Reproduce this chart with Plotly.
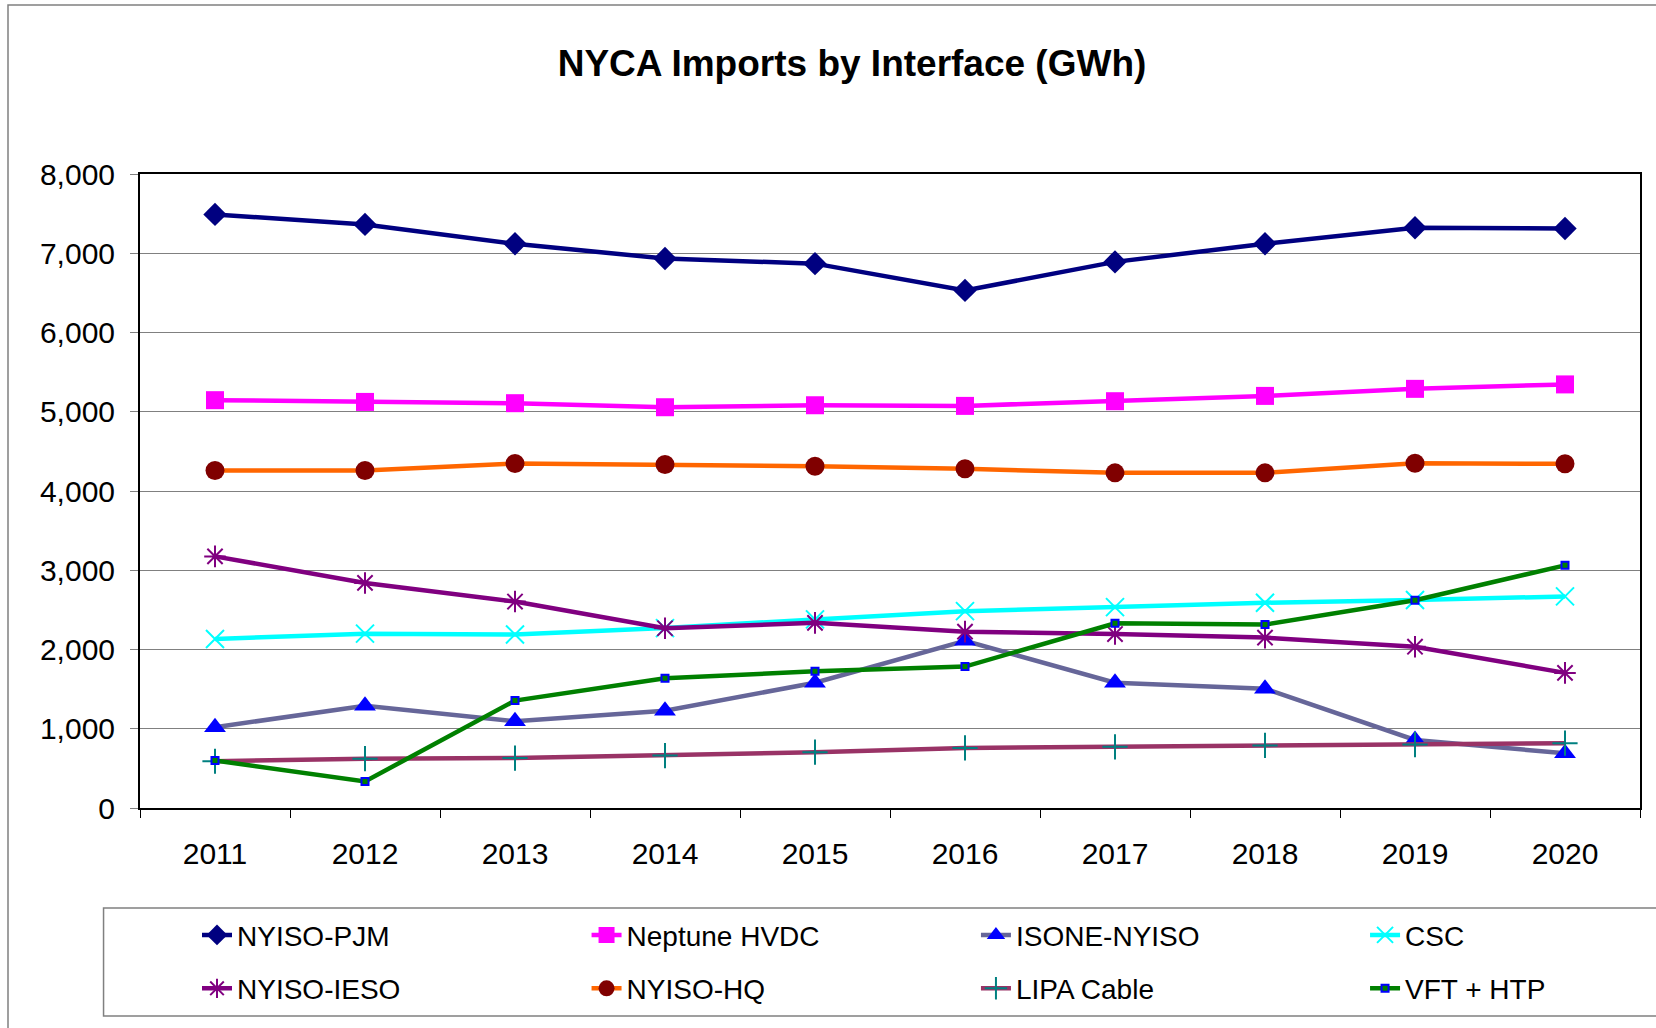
import plotly.graph_objects as go

years = ["2011", "2012", "2013", "2014", "2015", "2016", "2017", "2018", "2019", "2020"]

nyiso_pjm = [7490, 7364, 7119, 6933, 6869, 6531, 6891, 7119, 7322, 7313]
neptune_hvdc = [5146, 5124, 5108, 5057, 5082, 5074, 5133, 5200, 5289, 5345]
isone_nyiso = [1020, 1290, 1095, 1228, 1580, 2110, 1580, 1505, 858, 690]
csc = [2133, 2200, 2190, 2270, 2380, 2484, 2535, 2590, 2624, 2670]
nyiso_ieso = [3175, 2840, 2605, 2268, 2336, 2225, 2195, 2150, 2035, 1705]
nyiso_hq = [4259, 4259, 4347, 4335, 4313, 4280, 4229, 4229, 4351, 4343]
lipa_cable = [590, 622, 630, 662, 705, 758, 772, 790, 800, 818]
vft_htp = [600, 335, 1355, 1638, 1725, 1785, 2330, 2315, 2622, 3062]

fig = go.Figure()

# name, values, line colour, marker, legend column
series = [
    ("NYISO-PJM", nyiso_pjm, "#000080", dict(symbol="diamond", size=18, color="#000080"), "legend"),
    ("Neptune HVDC", neptune_hvdc, "#FF00FF", dict(symbol="square", size=18, color="#FF00FF"), "legend2"),
    ("ISONE-NYISO", isone_nyiso, "#666699", dict(symbol="triangle-up", size=19, color="#0000FF"), "legend3"),
    ("CSC", csc, "#00FFFF", dict(symbol="x-thin-open", size=18, color="#00FFFF", line=dict(width=2, color="#00FFFF")), "legend4"),
    ("NYISO-IESO", nyiso_ieso, "#800080", dict(symbol="asterisk-open", size=18, color="#800080", line=dict(width=2, color="#800080")), "legend"),
    ("NYISO-HQ", nyiso_hq, "#FF6600", dict(symbol="circle", size=19, color="#800000"), "legend2"),
    ("LIPA Cable", lipa_cable, "#993366", dict(symbol="cross-thin-open", size=18, color="#008080", line=dict(width=2, color="#008080")), "legend3"),
    ("VFT + HTP", vft_htp, "#008000", dict(symbol="square", size=7, color="#008000", line=dict(width=2, color="#0000FF")), "legend4"),
]

for name, vals, col, mk, lg in series:
    fig.add_trace(go.Scatter(x=years, y=vals, mode="lines+markers", name=name,
                             legend=lg, legendgroup=name,
                             line=dict(color=col, width=4.5), marker=mk))

# chart-area frame (runs off the right and bottom edges like the original)
fig.add_shape(type="rect", xref="paper", yref="paper",
              x0=-0.088, x1=1.2, y0=-0.36, y1=1.2666,
              line=dict(color="#808080", width=1.5), layer="below")
# legend frame
fig.add_shape(type="rect", xref="paper", yref="paper",
              x0=-0.0243, x1=1.2, y0=-0.328, y1=-0.1577,
              line=dict(color="#808080", width=1.5), layer="below")

leg_common = dict(orientation="v", xanchor="left", y=-0.1612, yanchor="top",
                  bgcolor="rgba(0,0,0,0)", borderwidth=0, tracegroupgap=14,
                  font=dict(size=28, color="black"), traceorder="grouped")

fig.update_layout(
    width=1656, height=1028,
    margin=dict(l=140, r=16, t=174, b=220, autoexpand=False),
    paper_bgcolor="white", plot_bgcolor="white",
    font=dict(family="Liberation Sans, Arial, sans-serif", color="black"),
    title=dict(text="<b>NYCA Imports by Interface (GWh)</b>", x=0.5145, xanchor="center",
               y=0.9387, yanchor="middle", font=dict(size=37, color="black")),
    showlegend=True,
    legend=dict(x=0.038, **leg_common),
    legend2=dict(x=0.2977, **leg_common),
    legend3=dict(x=0.5573, **leg_common),
    legend4=dict(x=0.8167, **leg_common),
    xaxis=dict(type="category", range=[-0.5, 9.5], showgrid=False,
               showline=True, linecolor="black", linewidth=2, mirror=True,
               ticks="outside", tickson="boundaries", ticklen=8, tickcolor="black",
               tickfont=dict(size=30), ticklabelstandoff=18),
    yaxis=dict(range=[0, 8000], dtick=1000, tickformat=",d",
               showgrid=True, gridcolor="#808080", gridwidth=1,
               showline=True, linecolor="black", linewidth=2, mirror=True,
               ticks="outside", ticklen=8, tickcolor="#808080",
               tickfont=dict(size=30), ticklabelstandoff=9, zeroline=False),
)

# drop the browser's default 8px body margin so the figure sits at the page corner
fig.write_html("out.html", config={"displayModeBar": False},
               post_script="document.body.style.margin='0';")
